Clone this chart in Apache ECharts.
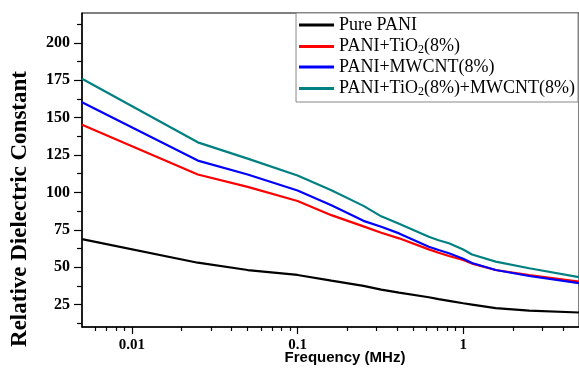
<!DOCTYPE html>
<html>
<head>
<meta charset="utf-8">
<script src="https://cdn.jsdelivr.net/npm/echarts@6/dist/echarts.min.js"></script>
<style>
    html, body {margin: 0; padding: 0; background: #fff;}
    #chart {width: 579px; height: 374px;}
</style>
</head>
<body>
<div id="chart"></div>
<script>
// frequency in MHz
const freq = [0.005, 0.025, 0.05, 0.1, 0.16, 0.25, 0.32, 0.41, 0.62, 0.71, 0.82, 1, 1.13, 1.57, 2.5, 5];
const purePani = [68.8, 53, 48.1, 44.8, 41, 37.5, 35, 33, 29.9, 28.6, 27.5, 25.9, 25, 22.6, 21, 19.7];
const paniTio2 = [145.3, 112, 103.7, 94.3, 84.8, 77.3, 73, 69.3, 61.9, 59.7, 57.5, 54.8, 52.4, 48.1, 44.8, 40.3];
const paniMwcnt = [160.3, 121.3, 112, 101.3, 91.5, 81, 77, 72.6, 63.7, 61.5, 59.3, 55.6, 52.8, 48.1, 44.1, 39.3];
const paniBoth = [176, 133.5, 122.6, 111.3, 101.5, 91, 84, 79, 70.3, 68, 66, 61.8, 58.5, 53.7, 49.3, 43.3];

const names = ['Pure PANI', 'PANI+TiO2(8%)', 'PANI+MWCNT(8%)', 'PANI+TiO2(8%)+MWCNT(8%)'];
const colors = ['#000000', '#ff0000', '#0000ff', '#008080'];

const xMajor = [0.01, 0.1, 1];
const xMinor = [0.006, 0.007, 0.008, 0.009, 0.02, 0.03, 0.04, 0.05, 0.06, 0.07, 0.08, 0.09,
    0.2, 0.3, 0.4, 0.5, 0.6, 0.7, 0.8, 0.9, 2, 3, 4];
const yMajor = [25, 50, 75, 100, 125, 150, 175, 200];
const yMinor = [12.5, 37.5, 62.5, 87.5, 112.5, 137.5, 162.5, 187.5, 212.5];

const serif = '"Liberation Serif", "Times New Roman", serif';
const pair = (ys) => freq.map((f, i) => [f, ys[i]]);
const legendText = (name) => {
    // subscript 2 in TiO2
    const parts = name.split('TiO2');
    return parts.map(p => '{n|' + p + '}').join('{n|TiO}{s|2}');
};

const chart = echarts.init(document.getElementById('chart'));
chart.setOption({
    animation: false,
    grid: {
        left: 82, top: 13, right: -1, bottom: 47,
        show: true, borderColor: '#000', borderWidth: 1
    },
    legend: {
        orient: 'vertical',
        right: 1, top: 13,
        backgroundColor: '#fff',
        borderColor: '#888',
        borderWidth: 1,
        borderRadius: 0,
        padding: [3, 3, 4, 3],
        itemGap: 2,
        icon: 'rect',
        itemWidth: 35,
        itemHeight: 3,
        data: names,
        formatter: legendText,
        textStyle: {
            color: '#000',
            fontFamily: serif,
            fontSize: 18,
            rich: {
                n: {fontSize: 18, fontFamily: serif, color: '#000', lineHeight: 19},
                s: {fontSize: 12, fontFamily: serif, color: '#000', lineHeight: 19, verticalAlign: 'bottom', padding: [8, 0, 0, 0]}
            }
        }
    },
    xAxis: [{
        type: 'log',
        logBase: 10,
        min: 0.005,
        max: 5,
        axisLine: {lineStyle: {color: '#000', width: 1.5}},
        axisTick: {customValues: xMajor, length: 7, lineStyle: {color: '#000', width: 1.2}},
        axisLabel: {
            customValues: xMajor,
            color: '#000',
            fontFamily: serif,
            fontWeight: 'bold',
            fontSize: 15,
            margin: 11,
            formatter: (v) => String(v)
        },
        splitLine: {show: false}
    }, {
        type: 'log',
        logBase: 10,
        min: 0.005,
        max: 5,
        position: 'bottom',
        axisLine: {show: false},
        axisTick: {customValues: xMinor, length: 4, lineStyle: {color: '#000', width: 1.2}},
        axisLabel: {show: false},
        splitLine: {show: false}
    }],
    yAxis: [{
        type: 'value',
        min: 10,
        max: 220,
        axisLine: {show: true, lineStyle: {color: '#000', width: 1.5}},
        axisTick: {show: true, customValues: yMajor, length: 8, lineStyle: {color: '#000', width: 1.2}},
        axisLabel: {
            customValues: yMajor,
            color: '#000',
            fontFamily: serif,
            fontWeight: 'bold',
            fontSize: 16,
            margin: 12
        },
        splitLine: {show: false}
    }, {
        type: 'value',
        min: 10,
        max: 220,
        position: 'left',
        axisLine: {show: false},
        axisTick: {show: true, customValues: yMinor, length: 5, lineStyle: {color: '#000', width: 1.2}},
        axisLabel: {show: false},
        splitLine: {show: false}
    }],
    graphic: [{
        type: 'text',
        x: 20, y: 209,
        rotation: Math.PI / 2,
        style: {
            text: 'Relative Dielectric Constant',
            font: 'bold 23px ' + serif,
            fill: '#000',
            textAlign: 'center',
            textVerticalAlign: 'middle'
        }
    }, {
        type: 'text',
        x: 345, y: 358,
        style: {
            text: 'Frequency (MHz)',
            font: 'bold 15px "Liberation Sans", Arial, sans-serif',
            fill: '#000',
            textAlign: 'center',
            textVerticalAlign: 'middle'
        }
    }],
    series: [purePani, paniTio2, paniMwcnt, paniBoth].map((ys, i) => ({
        name: names[i],
        type: 'line',
        data: pair(ys),
        symbol: 'none',
        smooth: false,
        lineStyle: {color: colors[i], width: 2.2},
        itemStyle: {color: colors[i]}
    }))
});
</script>
</body>
</html>
